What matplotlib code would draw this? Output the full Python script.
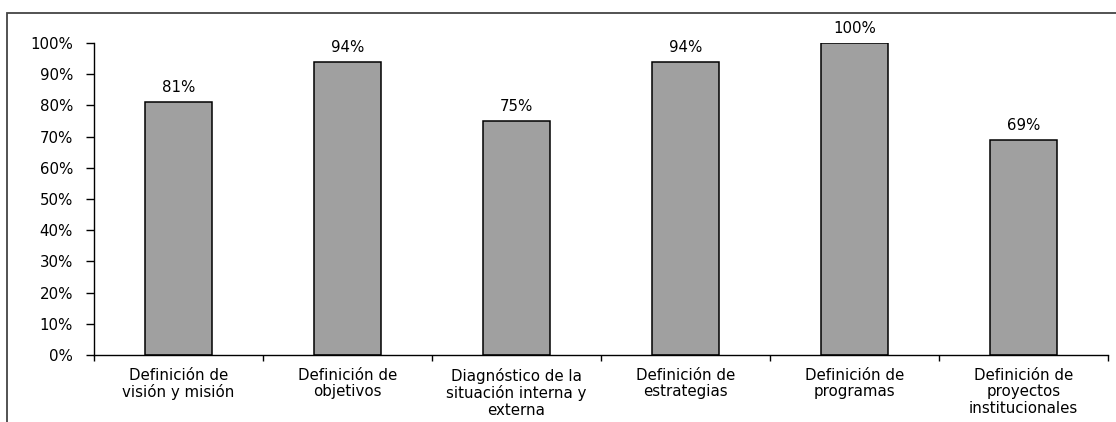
import matplotlib
matplotlib.use("Agg")
import matplotlib.pyplot as plt
from matplotlib.patches import Rectangle
import numpy as np

categorias = [
    "Definición de\nvisión y misión",
    "Definición de\nobjetivos",
    "Diagnóstico de la\nsituación interna y\nexterna",
    "Definición de\nestrategias",
    "Definición de\nprogramas",
    "Definición de\nproyectos\ninstitucionales",
]
valores = [81, 94, 75, 94, 100, 69]
yticks = [0, 10, 20, 30, 40, 50, 60, 70, 80, 90, 100]

plt.rcParams["font.family"] = ["DejaVu Sans"]
plt.rcParams["font.size"] = 10.8

W, H = 1116, 422
fig = plt.figure(figsize=(W / 100, H / 100), dpi=100)
ax = fig.add_axes([94 / W, 1 - 355 / H, (1108 - 94) / W, (355 - 43) / H])

x = np.arange(len(categorias))
bars = ax.bar(x, valores, width=0.4, color="#a0a0a0", edgecolor="black", linewidth=1.1)

for xi, v in zip(x, valores):
    ax.annotate(f"{v}%", (xi, v), xytext=(0, 5), textcoords="offset points",
                ha="center", va="bottom")

ax.set_xlim(-0.5, len(categorias) - 0.5)
ax.set_ylim(0, 100)
ax.set_yticks(yticks)
ax.set_yticklabels([f"{t}%" for t in yticks])
ax.set_xticks(x)
ax.set_xticklabels(categorias, linespacing=1.15)
ax.tick_params(axis="x", length=0, pad=9)
ax.set_xticks(np.arange(len(categorias) + 1) - 0.5, minor=True)
ax.tick_params(axis="x", which="minor", length=4, width=1)
ax.tick_params(axis="y", length=6, width=1, pad=9)

ax.spines["top"].set_visible(False)
ax.spines["right"].set_visible(False)
ax.spines["left"].set_linewidth(1)
ax.spines["bottom"].set_linewidth(1)

# outer chart frame, running off the right and bottom edges
fig.patches.append(Rectangle((7 / W, -0.1), 1.2, (H - 13) / H + 0.1,
                             transform=fig.transFigure, fill=False,
                             edgecolor="#444444", linewidth=1.3))

fig.savefig("out.png", dpi=100)
